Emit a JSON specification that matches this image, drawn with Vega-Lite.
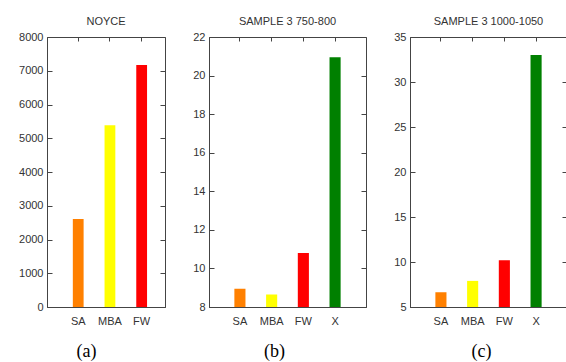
{
  "$schema": "https://vega.github.io/schema/vega-lite/v6.json",
  "padding": {"left": 18, "top": 15, "right": 0, "bottom": 0},
  "spacing": 26,
  "background": "white",
  "config": {
    "view": {"stroke": "#444", "strokeWidth": 1},
    "font": "Liberation Sans",
    "axis": {
      "domainColor": "#444",
      "tickColor": "#444",
      "labelColor": "#333",
      "labelFontSize": 11,
      "labelFont": "Liberation Sans",
      "grid": false
    },
    "title": {"fontSize": 11, "fontWeight": "normal", "color": "#333", "font": "Liberation Sans", "offset": 4}
  },
  "hconcat": [
    {
      "title": "NOYCE",
      "width": 118,
      "height": 270,
      "data": {"values": [
        {"method": "SA", "value": 2605},
        {"method": "MBA", "value": 5385},
        {"method": "FW", "value": 7170}
      ]},
      "layer": [
        {
          "mark": {"type": "bar", "clip": true},
          "encoding": {
            "x": {"field": "method", "type": "nominal", "sort": null,
              "scale": {"domain": ["SA", "MBA", "FW"], "paddingInner": 0.66, "paddingOuter": 0.69, "align": 0.59},
              "axis": {"orient": "bottom", "labelAngle": 0, "ticks": false, "labelPadding": 8, "title": "(a)", "titleFont": "Liberation Serif", "titleFontSize": 18, "titleFontWeight": "normal", "titleColor": "#000", "titlePadding": 16, "titleX": 39}},
            "y": {"field": "value", "type": "quantitative",
              "scale": {"domain": [0, 8000], "nice": false, "zero": false},
              "axis": {"orient": "left", "values": [0, 1000, 2000, 3000, 4000, 5000, 6000, 7000, 8000], "tickSize": -5, "labelPadding": 9, "title": null, "format": "d"}},
            "color": {"field": "method", "type": "nominal",
              "scale": {"domain": ["SA", "MBA", "FW", "X"], "range": ["#ff8000", "#ffff00", "#ff0000", "#008000"]},
              "legend": null}
          }
        },
        {
          "mark": {"type": "bar", "opacity": 0, "clip": true},
          "encoding": {
            "x": {"field": "method", "type": "nominal", "sort": null,
              "axis": {"orient": "top", "labels": false, "domain": false, "tickSize": -4, "title": null, "minExtent": 0, "maxExtent": 0}},
            "y": {"field": "value", "type": "quantitative",
              "axis": {"orient": "right", "labels": false, "domain": false, "tickSize": -5, "title": null, "values": [0, 1000, 2000, 3000, 4000, 5000, 6000, 7000, 8000], "minExtent": 0, "maxExtent": 0}}
          }
        }
      ],
      "resolve": {"axis": {"x": "independent", "y": "independent"}}
    },
    {
      "title": "SAMPLE 3 750-800",
      "width": 157,
      "height": 270,
      "data": {"values": [
        {"method": "SA", "value": 8.95},
        {"method": "MBA", "value": 8.65},
        {"method": "FW", "value": 10.8},
        {"method": "X", "value": 20.95}
      ]},
      "layer": [
        {
          "mark": {"type": "bar", "clip": true},
          "encoding": {
            "x": {"field": "method", "type": "nominal", "sort": null,
              "scale": {"domain": ["SA", "MBA", "FW", "X"], "paddingInner": 0.65, "paddingOuter": 0.8},
              "axis": {"orient": "bottom", "labelAngle": 0, "ticks": false, "labelPadding": 8, "title": "(b)", "titleFont": "Liberation Serif", "titleFontSize": 18, "titleFontWeight": "normal", "titleColor": "#000", "titlePadding": 16, "titleX": 65}},
            "y": {"field": "value", "type": "quantitative",
              "scale": {"domain": [8, 22], "nice": false, "zero": false},
              "axis": {"orient": "left", "values": [8, 10, 12, 14, 16, 18, 20, 22], "tickSize": -5, "labelPadding": 9, "title": null}},
            "color": {"field": "method", "type": "nominal",
              "scale": {"domain": ["SA", "MBA", "FW", "X"], "range": ["#ff8000", "#ffff00", "#ff0000", "#008000"]},
              "legend": null}
          }
        },
        {
          "mark": {"type": "bar", "opacity": 0, "clip": true},
          "encoding": {
            "x": {"field": "method", "type": "nominal", "sort": null,
              "axis": {"orient": "top", "labels": false, "domain": false, "tickSize": -4, "title": null, "minExtent": 0, "maxExtent": 0}},
            "y": {"field": "value", "type": "quantitative",
              "axis": {"orient": "right", "labels": false, "domain": false, "tickSize": -5, "title": null, "values": [8, 10, 12, 14, 16, 18, 20, 22], "minExtent": 0, "maxExtent": 0}}
          }
        }
      ],
      "resolve": {"axis": {"x": "independent", "y": "independent"}}
    },
    {
      "title": "SAMPLE 3 1000-1050",
      "width": 157,
      "height": 270,
      "data": {"values": [
        {"method": "SA", "value": 6.64},
        {"method": "MBA", "value": 7.9},
        {"method": "FW", "value": 10.2},
        {"method": "X", "value": 33.0}
      ]},
      "layer": [
        {
          "mark": {"type": "bar", "clip": true},
          "encoding": {
            "x": {"field": "method", "type": "nominal", "sort": null,
              "scale": {"domain": ["SA", "MBA", "FW", "X"], "paddingInner": 0.65, "paddingOuter": 0.8},
              "axis": {"orient": "bottom", "labelAngle": 0, "ticks": false, "labelPadding": 8, "title": "(c)", "titleFont": "Liberation Serif", "titleFontSize": 18, "titleFontWeight": "normal", "titleColor": "#000", "titlePadding": 16, "titleX": 71}},
            "y": {"field": "value", "type": "quantitative",
              "scale": {"domain": [5, 35], "nice": false, "zero": false},
              "axis": {"orient": "left", "values": [5, 10, 15, 20, 25, 30, 35], "tickSize": -5, "labelPadding": 9, "title": null}},
            "color": {"field": "method", "type": "nominal",
              "scale": {"domain": ["SA", "MBA", "FW", "X"], "range": ["#ff8000", "#ffff00", "#ff0000", "#008000"]},
              "legend": null}
          }
        },
        {
          "mark": {"type": "bar", "opacity": 0, "clip": true},
          "encoding": {
            "x": {"field": "method", "type": "nominal", "sort": null,
              "axis": {"orient": "top", "labels": false, "domain": false, "tickSize": -4, "title": null, "minExtent": 0, "maxExtent": 0}},
            "y": {"field": "value", "type": "quantitative",
              "axis": {"orient": "right", "labels": false, "domain": false, "tickSize": -5, "title": null, "values": [5, 10, 15, 20, 25, 30, 35], "minExtent": 0, "maxExtent": 0}}
          }
        }
      ],
      "resolve": {"axis": {"x": "independent", "y": "independent"}}
    }
  ]
}
